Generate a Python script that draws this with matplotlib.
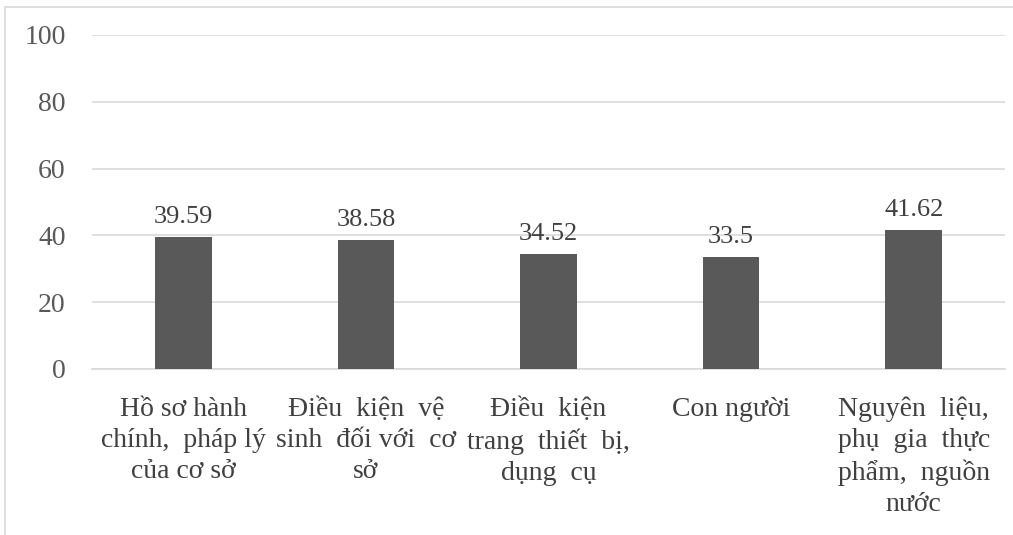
import matplotlib
matplotlib.use("Agg")
import matplotlib.pyplot as plt
from matplotlib.patches import Rectangle

categories = [
    "Hồ sơ hành\nchính,  pháp lý\ncủa cơ sở",
    "Điều  kiện  vệ\nsinh  đối với  cơ\nsở",
    "Điều  kiện\ntrang  thiết  bị,\ndụng  cụ",
    "Con người",
    "Nguyên  liệu,\nphụ  gia  thực\nphẩm,  nguồn\nnước",
]
values = [39.59, 38.58, 34.52, 33.5, 41.62]
value_labels = ["39.59", "38.58", "34.52", "33.5", "41.62"]
y_ticks = [0, 20, 40, 60, 80, 100]

plt.rcParams["font.family"] = ["Liberation Serif", "DejaVu Serif"]

W, H = 1013, 535
fig = plt.figure(figsize=(W / 100, H / 100), dpi=100)
fig.patch.set_facecolor("white")

# outer frame of the chart area
fig.patches.append(Rectangle((5 / W, -0.1), 1.2, 1 - 7 / H + 0.1,
                             transform=fig.transFigure, fill=False,
                             edgecolor="#d9d9d9", linewidth=1.2))

ax = fig.add_axes([92 / W, 1 - 369 / H, (1005 - 92) / W, (369 - 35) / H])
x = list(range(len(categories)))
ax.bar(x, values, width=0.31, color="#595959", zorder=3)
ax.set_xlim(-0.5, len(categories) - 0.5)
ax.set_ylim(0, 100)
ax.set_yticks(y_ticks)
ax.set_yticklabels([str(t) for t in y_ticks])
ax.yaxis.grid(True, color="#d9d9d9", linewidth=1.2, zorder=0)
for s in ["top", "right", "left"]:
    ax.spines[s].set_visible(False)
ax.spines["bottom"].set_color("#d9d9d9")
ax.spines["bottom"].set_linewidth(1.2)
ax.tick_params(axis="y", length=0, pad=19, labelsize=20, labelcolor="#595959")
ax.tick_params(axis="x", length=0, pad=20)
ax.set_xticks(x)
ax.set_xticklabels(categories, fontsize=20, color="#404040", linespacing=1.32,
                   va="top")

for xi, v, lab in zip(x, values, value_labels):
    ax.annotate(lab, (xi, v), xytext=(0, 6.5), textcoords="offset points",
                ha="center", va="bottom", fontsize=19, color="#404040")

fig.savefig("out.png", dpi=100, facecolor="white")
